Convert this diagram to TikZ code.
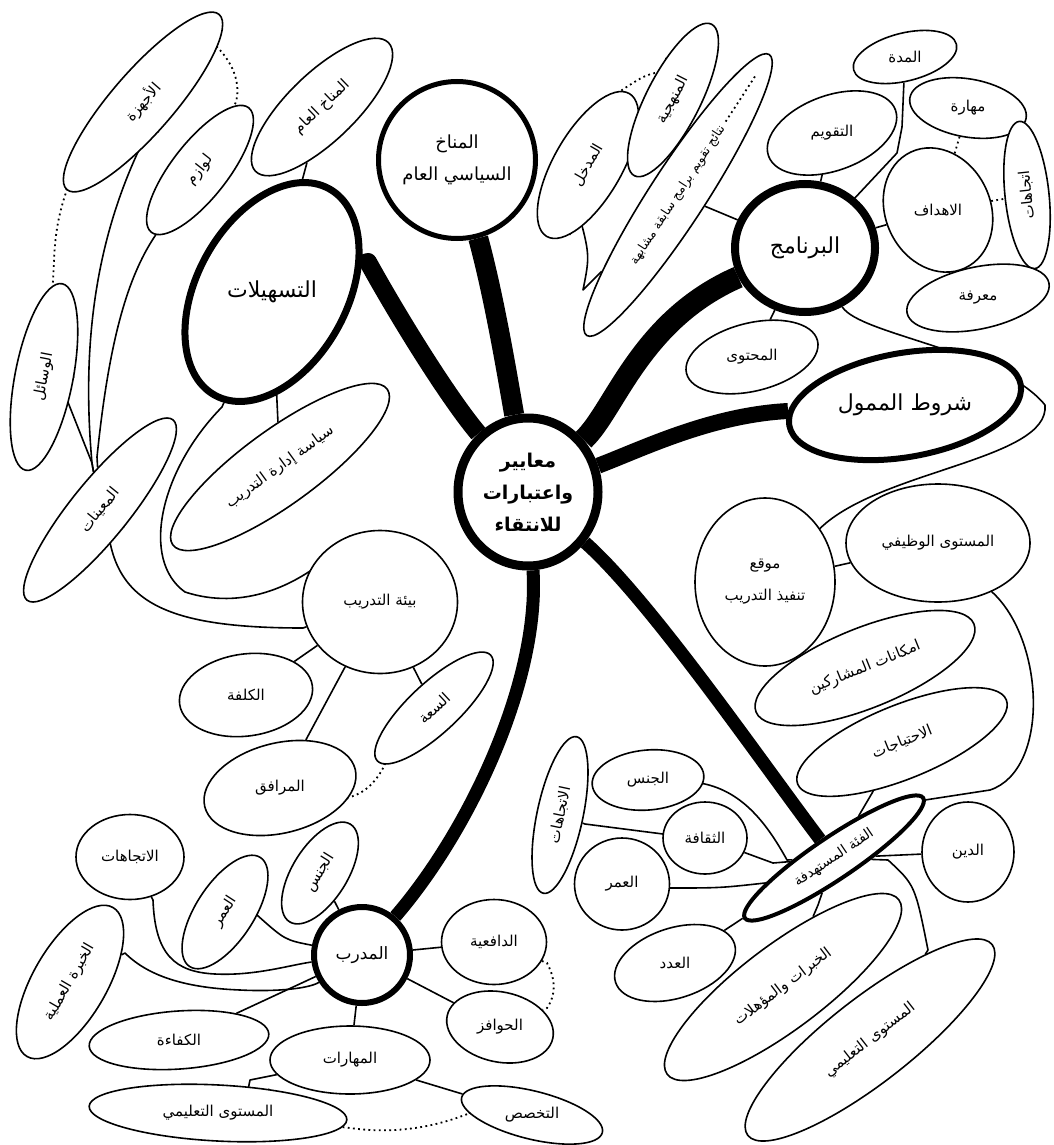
\documentclass[tikz,border=0pt]{standalone}
\usepackage{fontspec}
\usepackage{graphicx}
\usepackage{tikz}
\usetikzlibrary{shapes.geometric,backgrounds,calc}
\newfontfamily\arabicfont[Script=Arabic]{DejaVu Sans}
\TeXXeTstate=1
\newcommand{\ara}[1]{\beginR#1\endR}

\begin{document}
\begin{tikzpicture}[x=1pt, y=-1pt,
    bub/.style={draw, ellipse, fill=white, line width=1.6pt, inner sep=0pt,
      font=\arabicfont\fontsize{15}{18}\selectfont},
    hub/.style={bub, font=\arabicfont\fontsize{22}{26}\selectfont},
    branch/.style={line width=#1, line join=round},
    link/.style={line width=1.6pt, line join=round},
    dots/.style={line width=1.8pt, dash pattern=on 1.8pt off 3.4pt}]
  \useasboundingbox (0,0) rectangle (1053,1145);

  \node[hub, line width=9pt, minimum width=140pt, minimum height=148pt, align=center,
    font=\arabicfont\bfseries\fontsize{19}{32}\selectfont] (crit) at (528,492)
    {\ara{معايير}\\\ara{واعتبارات}\\\ara{للانتقاء}};
  \node[hub, circle, line width=5pt, minimum size=157pt, align=center,
    font=\arabicfont\fontsize{18}{32}\selectfont] (clim) at (457,160)
    {\ara{المناخ}\\\ara{السياسي العام}};
  \node[hub, line width=7pt, minimum width=236pt, minimum height=150pt, rotate=61] (fac) at (272,292) {\rotatebox{-61}{\ara{التسهيلات}}};
  \node[hub, line width=8pt, minimum width=140pt, minimum height=128pt] (prog) at (805,248) {\ara{البرنامج}};
  \node[hub, line width=6pt, minimum width=235pt, minimum height=104pt, rotate=10] (fund) at (905,405) {\rotatebox{-10}{\ara{شروط الممول}}};
  \node[hub, line width=6pt, minimum width=96pt, minimum height=96pt,
    font=\arabicfont\fontsize{17}{20}\selectfont] (trn) at (362,955) {\ara{المدرب}};
  \node[hub, line width=4pt, minimum width=215pt, minimum height=42pt, rotate=34,
    font=\arabicfont\fontsize{14}{16}\selectfont] (target) at (834,858) {\ara{الفئة المستهدفة}};

  \node[bub, minimum width=232pt, minimum height=62pt, rotate=49] (dev) at (143,102) {\ara{الأجهزة}};
  \node[bub, minimum width=158pt, minimum height=56pt, rotate=52] (sup) at (200,170) {\ara{لوازم}};
  \node[bub, minimum width=185pt, minimum height=68pt, rotate=44] (gclim) at (322,107) {\ara{المناخ العام}};
  \node[bub, minimum width=190pt, minimum height=58pt, rotate=79] (mean) at (44,377) {\ara{الوسائل}};
  \node[bub, minimum width=232pt, minimum height=58pt, rotate=51] (aids) at (100,510) {\ara{المعينات}};
  \node[bub, minimum width=265pt, minimum height=75pt, rotate=36] (pol) at (280,467) {\ara{سياسة إدارة التدريب}};
  \node[bub, minimum width=155pt, minimum height=143pt] (env) at (380,602) {\ara{بيئة التدريب}};
  \node[bub, minimum width=134pt, minimum height=82pt, rotate=8] (cost) at (246,695) {\rotatebox{-8}{\ara{الكلفة}}};
  \node[bub, minimum width=155pt, minimum height=50pt, rotate=43] (cap) at (434,708) {\ara{السعة}};
  \node[bub, minimum width=155pt, minimum height=90pt, rotate=14] (fac2) at (280,788) {\rotatebox{-14}{\ara{المرافق}}};

  \node[bub, minimum width=165pt, minimum height=68pt, rotate=60] (entry) at (588,165) {\ara{المدخل}};
  \node[bub, minimum width=170pt, minimum height=54pt, rotate=63] (meth) at (673,100) {\ara{المنهجية}};
  \node[bub, minimum width=335pt, minimum height=56pt, rotate=57,
    font=\arabicfont\fontsize{12.5}{14}\selectfont] (res) at (678,195) {\ara{نتائج تقويم برامج سابقة مشابهة}\hspace{22pt}};
  \node[bub, minimum width=135pt, minimum height=75pt, rotate=20] (eval) at (832,133) {\rotatebox{-20}{\ara{التقويم}}};
  \node[bub, minimum width=106pt, minimum height=48pt, rotate=14] (dur) at (905,57) {\rotatebox{-14}{\ara{المدة}}};
  \node[bub, minimum width=118pt, minimum height=58pt, rotate=-10] (skill) at (968,108) {\rotatebox{10}{\ara{مهارة}}};
  \node[bub, minimum width=128pt, minimum height=105pt, rotate=-65] (obj) at (938,210) {\rotatebox{65}{\ara{الاهداف}}};
  \node[bub, minimum width=148pt, minimum height=44pt, rotate=96] (att) at (1027,195) {\ara{اتجاهات}};
  \node[bub, minimum width=145pt, minimum height=62pt, rotate=12] (know) at (978,298) {\rotatebox{-12}{\ara{معرفة}}};
  \node[bub, minimum width=135pt, minimum height=68pt, rotate=14] (cont) at (752,357) {\rotatebox{-14}{\ara{المحتوى}}};

  \node[bub, minimum width=140pt, minimum height=168pt, align=center] (loc) at (765,582) {\ara{موقع}\\[14pt]\ara{تنفيذ التدريب}};
  \node[bub, minimum width=184pt, minimum height=118pt] (job) at (938,543) {\ara{المستوى الوظيفي}};
  \node[bub, minimum width=235pt, minimum height=80pt, rotate=22] (part) at (865,668) {\ara{امكانات المشاركين}};
  \node[bub, minimum width=225pt, minimum height=74pt, rotate=22] (need) at (902,742) {\ara{الاحتياجات}};
  \node[bub, minimum width=92pt, minimum height=100pt] (relig) at (968,852) {\ara{الدين}};
  \node[bub, minimum width=290pt, minimum height=84pt, rotate=37] (exp) at (783,987) {\ara{الخبرات والمؤهلات}};
  \node[bub, minimum width=310pt, minimum height=84pt, rotate=38] (edu2) at (870,1040) {\ara{المستوى التعليمي}};
  \node[bub, minimum width=125pt, minimum height=70pt, rotate=18] (num) at (675,963) {\rotatebox{-18}{\ara{العدد}}};
  \node[bub, minimum width=95pt, minimum height=92pt] (age2) at (622,884) {\ara{العمر}};
  \node[bub, minimum width=84pt, minimum height=72pt] (cult) at (705,838) {\ara{الثقافة}};
  \node[bub, minimum width=112pt, minimum height=60pt, rotate=5] (gen2) at (648,780) {\rotatebox{-5}{\ara{الجنس}}};
  \node[bub, minimum width=160pt, minimum height=46pt, rotate=78] (att2) at (560,815) {\ara{الاتجاهات}};

  \node[bub, minimum width=108pt, minimum height=85pt] (att1) at (130,857) {\ara{الاتجاهات}};
  \node[bub, minimum width=130pt, minimum height=58pt, rotate=57] (age1) at (225,912) {\ara{العمر}};
  \node[bub, minimum width=115pt, minimum height=55pt, rotate=58] (gen1) at (320,873) {\ara{الجنس}};
  \node[bub, minimum width=172pt, minimum height=74pt, rotate=60] (wexp) at (70,982) {\ara{الخبرة العملية}};
  \node[bub, minimum width=180pt, minimum height=58pt, rotate=4] (comp) at (179,1040) {\rotatebox{-4}{\ara{الكفاءة}}};
  \node[bub, minimum width=160pt, minimum height=68pt] (skills) at (350,1060) {\ara{المهارات}};
  \node[bub, minimum width=258pt, minimum height=56pt, rotate=-3] (edu1) at (218,1113) {\rotatebox{3}{\ara{المستوى التعليمي}}};
  \node[bub, minimum width=145pt, minimum height=48pt, rotate=-14] (spec) at (532,1115) {\rotatebox{14}{\ara{التخصص}}};
  \node[bub, minimum width=105pt, minimum height=85pt] (mot) at (494,942) {\ara{الدافعية}};
  \node[bub, minimum width=108pt, minimum height=70pt, rotate=-12] (inc) at (500,1027) {\rotatebox{12}{\ara{الحوافز}}};

  \draw[dots] ($(res.center)!0.52!(res.east)$) -- ($(res.center)!0.85!(res.east)$);

  \begin{scope}[on background layer]
    \draw[branch=20pt] (crit) .. controls (508,380) and (495,300) .. (clim);
    \draw[branch=18pt] (crit) .. controls (450,400) and (400,320) .. (368,262) -- (fac);
    \draw[branch=22pt] (crit) .. controls (615,410) and (640,320) .. (prog);
    \draw[branch=16pt] (crit) .. controls (640,450) and (710,415) .. (fund);
    \draw[branch=13pt] (crit) .. controls (650,600) and (760,760) .. (target);
    \draw[branch=13pt] (crit) .. controls (540,680) and (470,830) .. (trn);

    \draw[link] (aids) -- (92,463) -- (58,377) -- (mean);
    \draw[link] (aids) -- (92,463) .. controls (80,330) and (100,220) .. (153,122) -- (dev);
    \draw[link] (aids) -- (97,457) .. controls (108,350) and (125,280) .. (sup);
    \draw[link] (aids) -- (107,515) .. controls (110,600) and (160,628) .. (303,628) -- (env);
    \draw[link] (gclim) -- (fac);
    \draw[link] (fac) -- (pol);
    \draw[link] (fac) -- (222,407) .. controls (160,470) and (140,560) .. (185,592)
      .. controls (240,610) and (300,590) .. (350,537) -- (env);
    \draw[link] (env) -- (cost);
    \draw[link] (env) -- (cap);
    \draw[link] (env) -- (fac2);
    \draw[dots] (dev) -- (217,47) .. controls (240,70) and (240,95) .. (sup);
    \draw[dots] (dev) -- (68,187) .. controls (52,230) and (55,260) .. (mean);
    \draw[dots] (fac2) -- (345,798) .. controls (365,795) and (378,780) .. (386,762) -- (cap);

    \draw[link] (prog) -- (eval);
    \draw[link] (prog) -- (obj);
    \draw[link] (prog) -- (853,200) -- (897,153) -- (902,127) -- (dur);
    \draw[link] (prog) -- (cont);
    \draw[link] (prog) -- (res);
    \draw[link] (meth) -- (res);
    \draw[link] (entry) -- (577,207) .. controls (590,255) .. (583,290) -- (res);
    \draw[link] (prog) .. controls (860,335) and (1000,350) .. (1045,405)
      .. controls (1050,460) and (880,470) .. (loc);
    \draw[link] (loc) -- (job);
    \draw[link] (job) .. controls (1045,640) and (1050,770) .. (990,790) -- (925,800) -- (target);
    \draw[link] (need) -- (target);
    \draw[link] (target) -- (relig);
    \draw[link] (target) -- (818,905) -- (exp);
    \draw[link] (target) -- (888,860) .. controls (915,885) .. (928,950) -- (edu2);
    \draw[link] (target) -- (num);
    \draw[link] (target) -- (773,863) -- (cult);
    \draw[link] (target) -- (765,883) .. controls (720,888) .. (668,888) -- (age2);
    \draw[link] (target) -- (787,860) .. controls (765,820) and (740,790) .. (700,783) -- (gen2);
    \draw[link] (att2) -- (585,824) -- (663,834) -- (cult);
    \draw[dots] (entry) -- (622,90) .. controls (645,75) .. (668,70) -- (meth);
    \draw[dots] (skill) -- (obj);
    \draw[dots] (obj) -- (att);
    \draw[dots] (obj) -- (know);

    \draw[link] (trn) -- (gen1);
    \draw[link] (age1) -- (257,915) .. controls (285,940) .. (trn);
    \draw[link] (att1) -- (153,900) .. controls (155,955) and (175,972) .. (215,974)
      .. controls (255,976) and (290,965) .. (trn);
    \draw[link] (wexp) -- (125,953) .. controls (150,978) and (190,988) .. (240,990)
      .. controls (280,992) and (310,988) .. (trn);
    \draw[link] (comp) -- (trn);
    \draw[link] (trn) -- (mot);
    \draw[link] (trn) -- (inc);
    \draw[link] (trn) -- (skills);
    \draw[link] (skills) -- (250,1080) -- (246,1100) -- (edu1);
    \draw[link] (skills) -- (spec);
    \draw[dots] (mot) -- (547,963) .. controls (556,980) and (556,995) .. (547,1008) -- (inc);
    \draw[dots] (edu1) -- (350,1128) .. controls (400,1135) and (440,1125) .. (470,1113) -- (spec);
  \end{scope}
\end{tikzpicture}
\end{document}
